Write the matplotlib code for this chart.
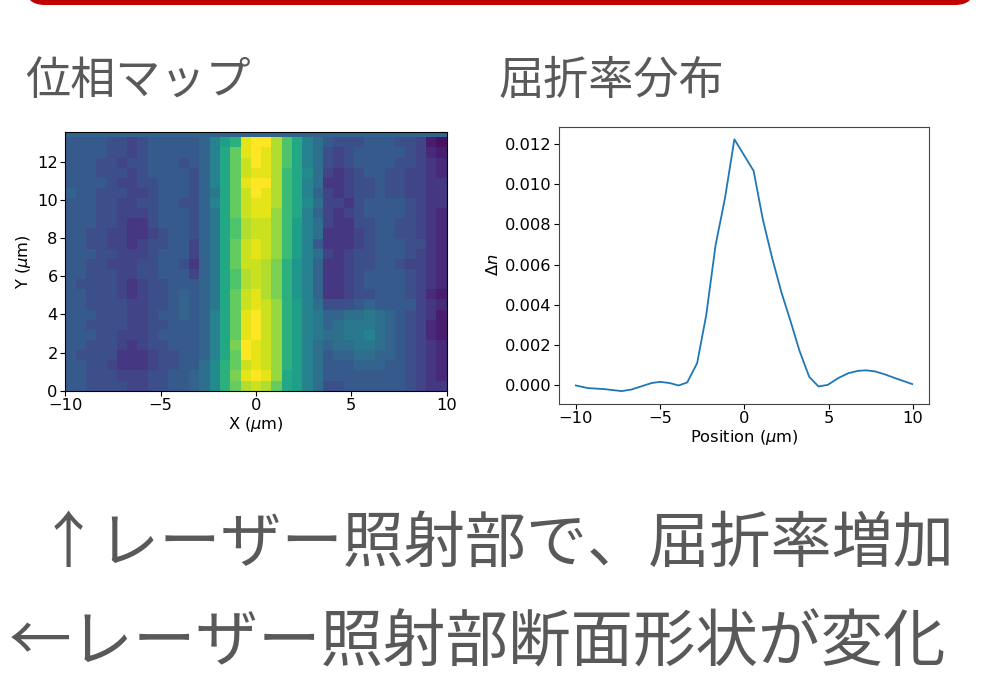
import numpy as np
import matplotlib
matplotlib.use("Agg")
import matplotlib.pyplot as plt
from matplotlib.patches import FancyBboxPatch

# ---------------- data ----------------
# phase map: rows from top (y~13) to bottom (y~0); letters a..z -> 0..1
phase_left = [
    "hhhhggfghhhhh", "hhhhggfghhhhh", "hhhggfgghhhgh", "hhhgggfghhhhg",
    "hhhhgffgghhhg", "ihhgggffghhhg", "hhhggffgghhgg", "hhhggfffghhhg",
    "hhhggfeeghhhg", "hhggffeefghhg", "hhggffefgghhf", "hhhggfffghhhf",
    "hhggfffgghhge", "hhgggffgghhhf", "hggggfefgghhh", "hhgggfefgghih",
    "hhggggffgghih", "hhhgggffghhih", "hhggggffgghhh", "hhhggfffghhhh",
    "hhgggfefgghhh", "hggggeeefgghh", "hhggfeeefgghh", "hhgggfffgghhi",
    "hhggggffgghhi",
]
phase_center = [
    "iloqyzzwsplj", "ilptyzywsplj", "ilptxzywsplj", "ilptxyywrpmj",
    "ilptyzzwrplj", "ikptxzywrpli", "ilptxyywrpmj", "ikptxyyvrpli",
    "ikpswxxvrolj", "ikpswxxvrolj", "ikptxyxvrolh", "ikptxyxvrolj",
    "ikptxxwuqnli", "ikpswxwuqnli", "ikpswxwuqnli", "ikptxywuqnli",
    "ikptxyxvqolj", "ilptyzxvqolk", "ilptyzxvqolk", "ilptyzxvqolk",
    "ilpuzyxvqolj", "ilptzyxvqolj", "jmqtxyxvqolj", "jmquyzyvpolj",
    "jmqtwxwtpolj",
]
phase_right = [
    "hggghhhggfcb", "gfghhhhhgfdc", "gfghhhhggfed", "fefghhggffed",
    "eefgghggffee", "fefgghggffee", "ffeghhhhgfee", "fefghhhhgfed",
    "feegghhggfed", "eeefghhggfed", "eeefghhhgged", "fefgghhhgfed",
    "eefgghhgffed", "eefghhhhgfed", "eefghhhhgfed", "eefgghhhgfdc",
    "ggghihhhhfed", "iijjkjihgfec", "ijkkkjihgfdc", "jjkkljihgfdc",
    "ijjkkjihgfed", "hiijjiihgfed", "hhhiiihhgfed", "hhhhhhhhgfed",
    "gghhhhhhgfee",
]
phase_top_strip = "i"
x_extent = (-10.0, 10.0)
y_extent = (0.0, 13.29)
y_top_strip = 13.55

pos_um = [-10.0, -9.29, -8.31, -7.28, -6.69, -5.51, -5.0, -4.43, -3.9, -3.39,
          -2.8, -2.26, -1.71, -1.15, -0.59, 0.55, 1.1, 1.66, 2.21, 2.74,
          3.27, 3.85, 4.4, 4.95, 5.58, 6.17, 6.77, 7.26, 7.75, 8.34, 8.93, 9.96]
delta_n = [0.0, -0.00013, -0.00018, -0.00028, -0.0002, 0.00012, 0.00018, 0.00012,
           0.0, 0.00015, 0.00111, 0.0035, 0.00695, 0.0093, 0.01223, 0.01066,
           0.00824, 0.0063, 0.0046, 0.0032, 0.00173, 0.00043, -0.00005, 0.00003,
           0.00037, 0.00061, 0.00073, 0.00075, 0.0007, 0.00055, 0.00037, 0.00007]

title_left = "位相マップ"
title_right = "屈折率分布"
line1 = "↑レーザー照射部で、屈折率増加"
line2 = "←レーザー照射部断面形状が変化"

# ---------------- figure ----------------
W, H = 988, 676
fig = plt.figure(figsize=(W / 100, H / 100), dpi=100)
fig.patch.set_facecolor("white")

def fx(px):
    return px / W

def fy(py):
    return 1 - py / H

# red rounded bar at top
bar = FancyBboxPatch((fx(25), fy(5)), fx(975) - fx(25), fy(-30) - fy(5),
                     boxstyle="round,pad=0,rounding_size=0.02",
                     transform=fig.transFigure, facecolor="#c00000",
                     edgecolor="none", mutation_aspect=W / H)
fig.patches.append(bar)

jp = ["Noto Sans CJK JP", "DejaVu Sans"]
gray = "#595959"
fig.text(fx(25), fy(81), title_left, fontsize=32.5, color=gray, family=jp,
         ha="left", va="center")
fig.text(fx(499), fy(81), title_right, fontsize=32.5, color=gray, family=jp,
         ha="left", va="center")
fig.text(fx(38), fy(545), line1, fontsize=44, color=gray, family=jp,
         ha="left", va="center")
fig.text(fx(9), fy(643), line2, fontsize=45, color=gray, family=jp,
         ha="left", va="center")

tick_fs = 11.7

# ---- phase map ----
rows = [l + c + r for l, c, r in zip(phase_left, phase_center, phase_right)]
for r in rows:
    assert len(r) == 37
grid = np.array([[(ord(ch) - 97) / 25 for ch in r] for r in rows])[::-1]
top = np.full((1, grid.shape[1]), (ord(phase_top_strip) - 97) / 25)
Z = np.vstack([grid, top])
xe = np.linspace(x_extent[0], x_extent[1], grid.shape[1] + 1)
ye = np.append(np.linspace(y_extent[0], y_extent[1], grid.shape[0] + 1), y_top_strip)

ax1 = fig.add_axes([fx(65.3), fy(390.7), fx(446.7) - fx(65.3), fy(132.3) - fy(390.7)])
ax1.pcolormesh(xe, ye, Z, cmap="viridis", vmin=0, vmax=1, shading="flat")
ax1.set_xlim(x_extent)
ax1.set_ylim(0, y_top_strip)
ax1.set_xticks([-10, -5, 0, 5, 10])
ax1.set_yticks([0, 2, 4, 6, 8, 10, 12])
ax1.set_xlabel(r"X ($\mu$m)", fontsize=tick_fs, labelpad=1)
ax1.set_ylabel(r"Y ($\mu$m)", fontsize=tick_fs, labelpad=3)
ax1.tick_params(labelsize=tick_fs, length=3.5, width=0.8, pad=2)

# ---- refractive index profile ----
ax2 = fig.add_axes([fx(559), fy(403.7), fx(929) - fx(559), fy(126.7) - fy(403.7)])
ax2.plot(pos_um, delta_n, color="#1f77b4", lw=1.3)
ax2.set_xticks([-10, -5, 0, 5, 10])
ax2.set_yticks([0.0, 0.002, 0.004, 0.006, 0.008, 0.010, 0.012])
ax2.yaxis.set_major_formatter(matplotlib.ticker.FormatStrFormatter("%.3f"))
ax2.set_xlabel(r"Position ($\mu$m)", fontsize=tick_fs, labelpad=1)
ax2.set_ylabel(r"$\Delta n$", fontsize=tick_fs, labelpad=3)
ax2.tick_params(labelsize=tick_fs, length=3.5, width=0.8, pad=2)
for s in ax2.spines.values():
    s.set_color("#444444")

fig.savefig("out.png", dpi=100, facecolor="white")
